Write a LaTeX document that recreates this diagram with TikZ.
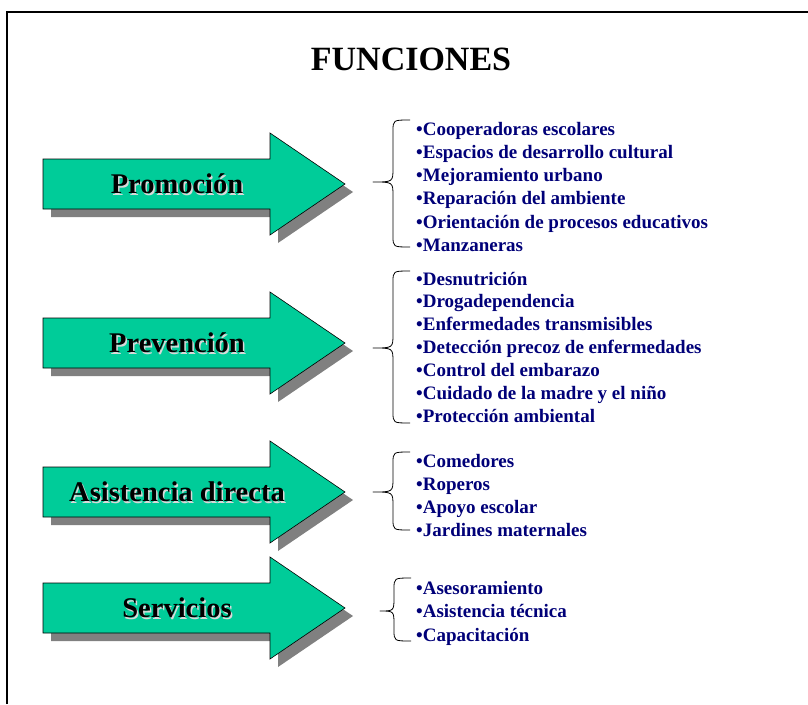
\documentclass[tikz,border=0pt]{standalone}
\usepackage{fontspec}
\setmainfont{Liberation Serif}
\usetikzlibrary{positioning}
\definecolor{pfeilgruen}{RGB}{0,204,153}
\definecolor{listblau}{RGB}{0,0,120}
\definecolor{schatten}{RGB}{128,128,128}
\tikzset{
  pfeiltext/.style={font=\fontsize{28.5}{32}\selectfont\bfseries, inner sep=0pt},
  punkt/.style={anchor=base west, inner sep=0pt, text=listblau, font=\fontsize{19}{23}\selectfont\bfseries},
  klammer/.style={line width=0.8pt, line join=round}
}
\begin{document}
\begin{tikzpicture}[x=1pt, y=-1pt] % 1 Einheit = 1 Pixel, y nach unten
\useasboundingbox (0,0) rectangle (808,704);
% Rahmen
\draw[line width=2pt] (7,704) -- (7,12) -- (808,12);
% Titel
\node[font=\fontsize{34}{40}\selectfont\bfseries, inner sep=0pt] (titel) at (411,59) {FUNCIONES};
% Pfeile mit Schatten und Beschriftung
\foreach \name/\y/\text in {prom/184/Promoción, prev/343/Prevención, asis/492/Asistencia directa, serv/608/Servicios} {
  \fill[schatten] (51,\y-17) -- (278,\y-17) -- (278,\y-43) -- (353,\y+8) -- (278,\y+59) -- (278,\y+33) -- (51,\y+33) -- cycle; % Schatten
  \draw[fill=pfeilgruen, line width=0.6pt] (43,\y-25) -- (270,\y-25) -- (270,\y-51) -- (345,\y) -- (270,\y+51) -- (270,\y+25) -- (43,\y+25) -- cycle; % Pfeil
  \node[pfeiltext, text=white!85!black] (\name-s) at (178.5,\y+1.5) {\text}; % Textschatten
  \node[pfeiltext] (\name) at (177,\y) {\text}; % Beschriftung
}
% Klammern: Spitze/Rücken/Ende/oben/Mitte/unten
\foreach \xt/\xs/\xe/\yo/\ym/\yu in {373/393/410/120/182/247, 373/393/410/271/348/423, 373/393/410/452/492/530, 380/394/411/578/611/641} {
  \draw[klammer] (\xe,\yo) .. controls (\xs,\yo) .. (\xs,\yo+11) -- (\xs,\ym-14) .. controls (\xs,\ym) .. (\xt,\ym)
    .. controls (\xs,\ym) .. (\xs,\ym+14) -- (\xs,\yu-11) .. controls (\xs,\yu) .. (\xe,\yu);
}
% Listen
\foreach \punkttext [count=\i from 0] in {Cooperadoras escolares, Espacios de desarrollo cultural, Mejoramiento urbano, Reparación del ambiente, Orientación de procesos educativos, Manzaneras}
  \node[punkt] (prom-\i) at (416,135+23.3*\i) {•\punkttext};
\foreach \punkttext [count=\i from 0] in {Desnutrición, Drogadependencia, Enfermedades transmisibles, Detección precoz de enfermedades, Control del embarazo, Cuidado de la madre y el niño, Protección ambiental}
  \node[punkt] (prev-\i) at (416,285+22.9*\i) {•\punkttext};
\foreach \punkttext [count=\i from 0] in {Comedores, Roperos, Apoyo escolar, Jardines maternales}
  \node[punkt] (asis-\i) at (416,467+23.3*\i) {•\punkttext};
\foreach \punkttext [count=\i from 0] in {Asesoramiento, Asistencia técnica, Capacitación}
  \node[punkt] (serv-\i) at (416,594+23.5*\i) {•\punkttext};
\end{tikzpicture}
\end{document}
